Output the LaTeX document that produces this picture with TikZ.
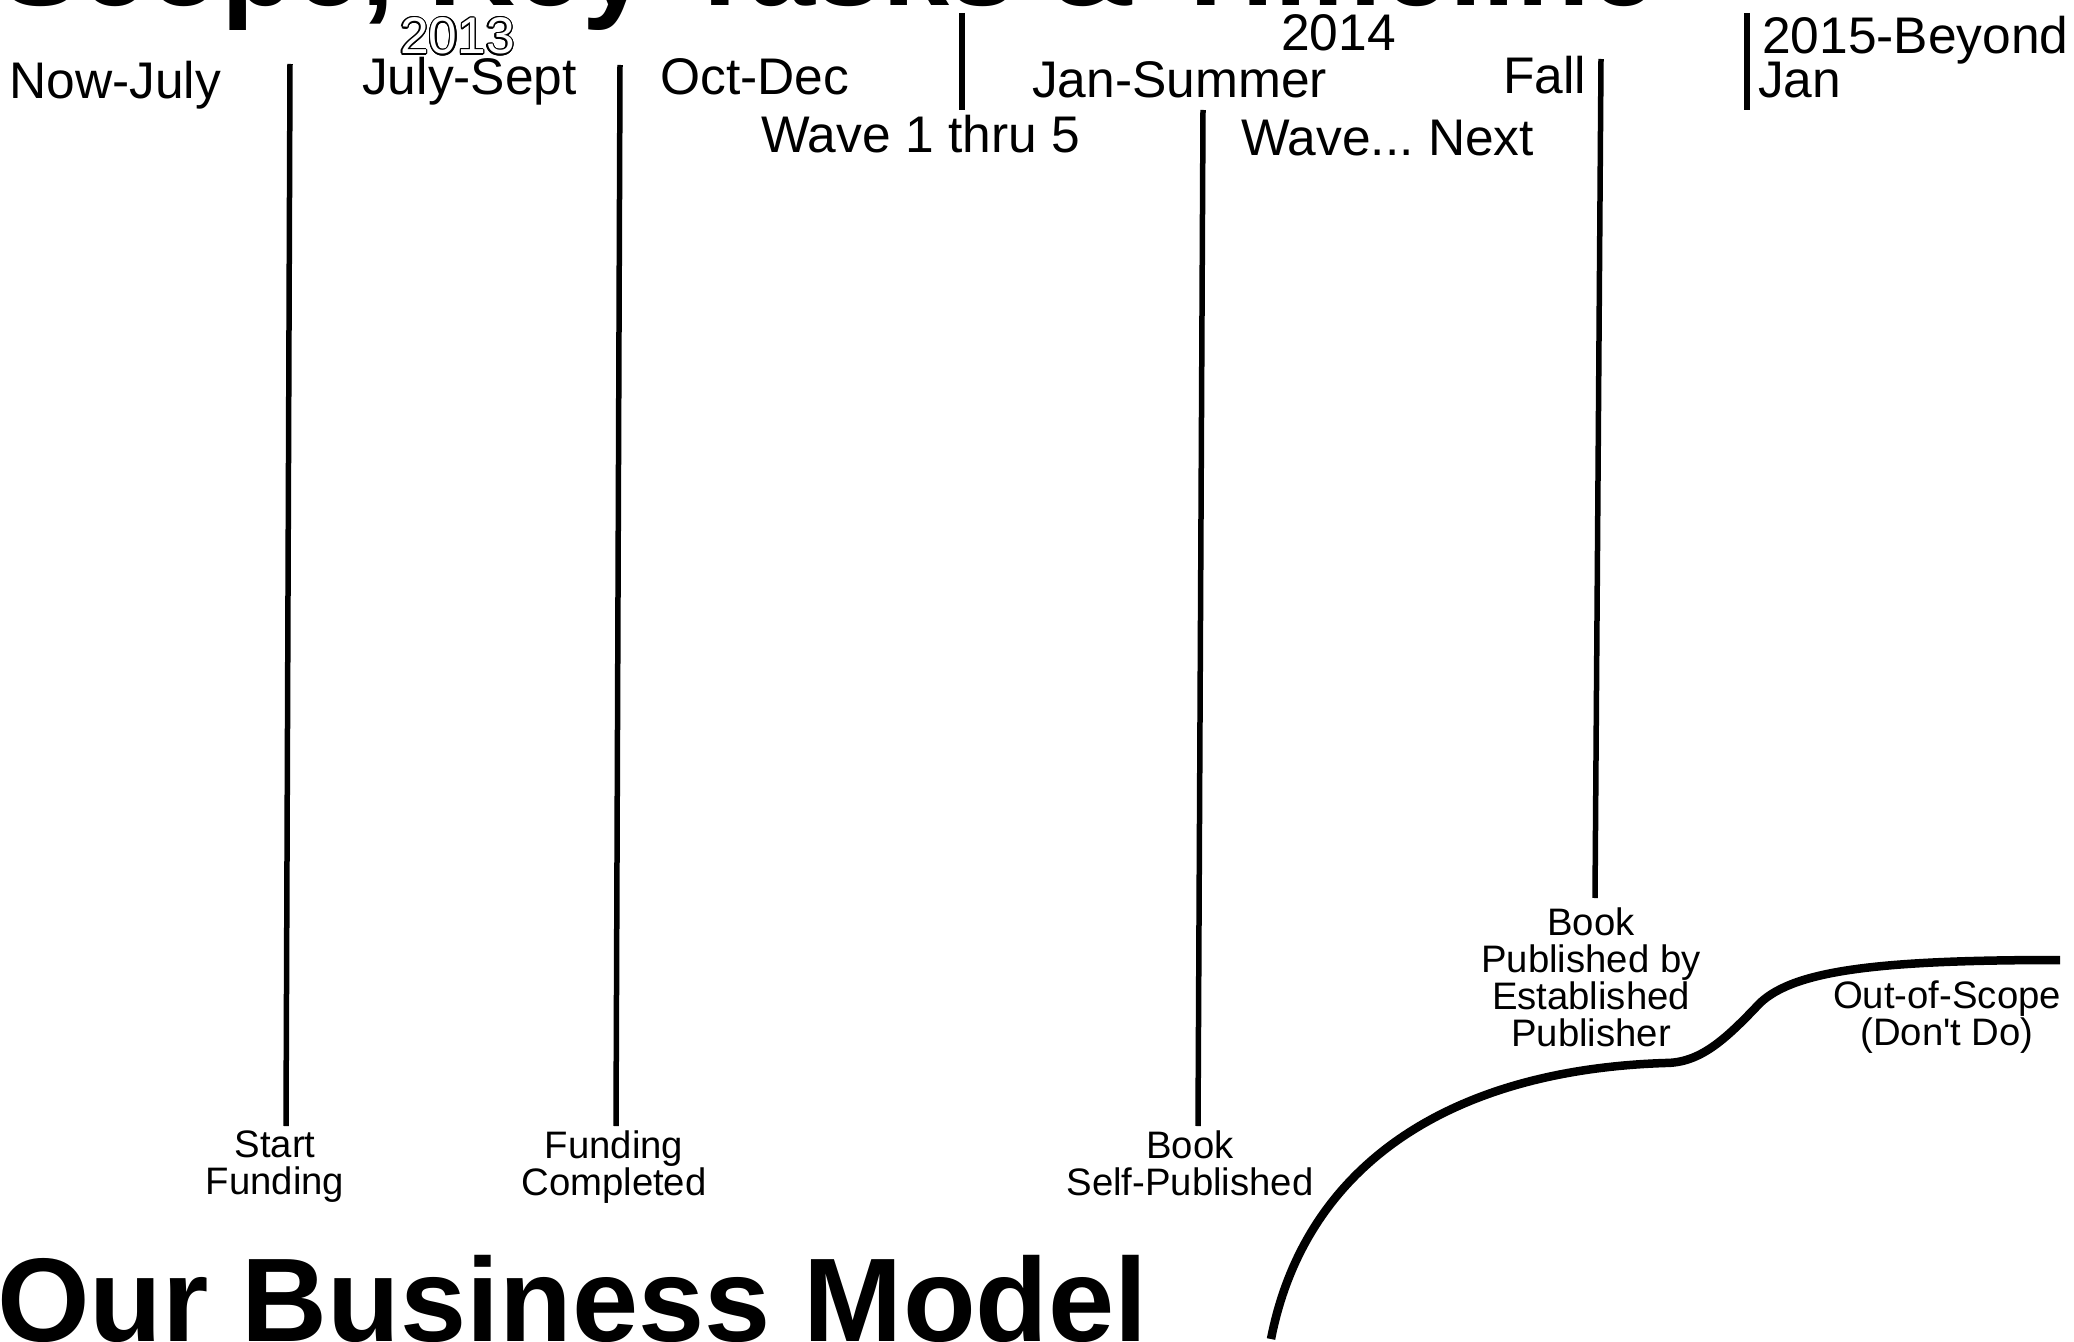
\documentclass[tikz,border=0pt]{standalone}
\usepackage{fontspec}
\setmainfont{Liberation Sans}
\newfontfamily\plainquote{Liberation Sans}
\usepackage[copies]{contour}
\contourlength{1.3bp}
\begin{document}
\frenchspacing
\begin{tikzpicture}[x=1bp,y=-1bp,
  bigtitle/.style={font=\fontsize{119bp}{130bp}\selectfont\bfseries, inner sep=0, anchor=base west},
  hdr/.style={font=\fontsize{51.5bp}{60bp}\selectfont, inner sep=0, anchor=base west},
  ms/.style={font=\fontsize{38.3bp}{37bp}\selectfont, align=center, inner sep=0, anchor=north},
  tick/.style={line width=5.5bp},
  curveline/.style={line width=8.5bp}]
\useasboundingbox (0,0) rectangle (2074,1342);
\clip (0,0) rectangle (2074,1342);

% titles
\node[bigtitle, font=\fontsize{120.5bp}{130bp}\selectfont\bfseries] (ttl) at (0,6) {Scope, Key Tasks \& Timeline};
\node[bigtitle] (bm) at (-3,1341) {Our Business Model};

% header labels
\node[hdr] (nowjuly) at (9,99) {Now-July};
\node[hdr, text=white] (y2013) at (400,54) {\contour{black}{2013}};
\node[hdr] (julysept) at (362,95) {July-Sept};
\node[hdr] (octdec) at (660,95) {Oct-Dec};
\node[hdr] (wave15) at (761,153) {Wave 1 thru 5};
\node[hdr] (jansummer) at (1032,98) {Jan-Summer};
\node[hdr] (y2014) at (1281,51) {2014};
\node[hdr] (fall) at (1503,94) {Fall};
\node[hdr] (wavenext) at (1241,156) {Wave... Next};
\node[hdr] (beyond) at (1762,54) {2015-Beyond};
\node[hdr] (jan) at (1758,98) {Jan};

% milestone labels
\node[ms] (startf) at (275,1131) {Start\\Funding};
\node[ms] (fundc) at (614,1131) {Funding\\Completed};
\node[ms] (selfp) at (1190,1131) {Book\\Self-Published};
\node[ms] (estp) at (1591,908) {Book\\Published by\\Established\\Publisher};
\node[ms] (oos) at (1947,981) {Out-of-Scope\\(Don{\plainquote\char39}t Do)};

% short separators
\coordinate (s1a) at (962,13);  \coordinate (s1b) at (962,110);
\coordinate (s2a) at (1747,13); \coordinate (s2b) at (1747,110);
\draw[tick] (s1a) -- (s1b);
\draw[tick] (s2a) -- (s2b);

% long milestone lines
\coordinate (ta) at (290,64);
\coordinate (tb) at (620,65);
\coordinate (tc) at (1203,110);
\coordinate (td) at (1601,59);
\draw[tick] (ta) -- ([xshift=11bp,yshift=5bp]startf.north);
\draw[tick] (tb) -- ([xshift=2bp,yshift=5bp]fundc.north);
\draw[tick] (tc) -- ([xshift=8bp,yshift=5bp]selfp.north);
\draw[tick] (td) -- ([xshift=4bp,yshift=10bp]estp.north);

% scope curve
\draw[curveline] (1271,1339) .. controls (1305,1165) and (1450,1070) .. (1665,1063)
  .. controls (1700,1063) and (1725,1040) .. (1760,1003)
  .. controls (1795,970) and (1880,960) .. (2060,960);
\end{tikzpicture}
\end{document}
